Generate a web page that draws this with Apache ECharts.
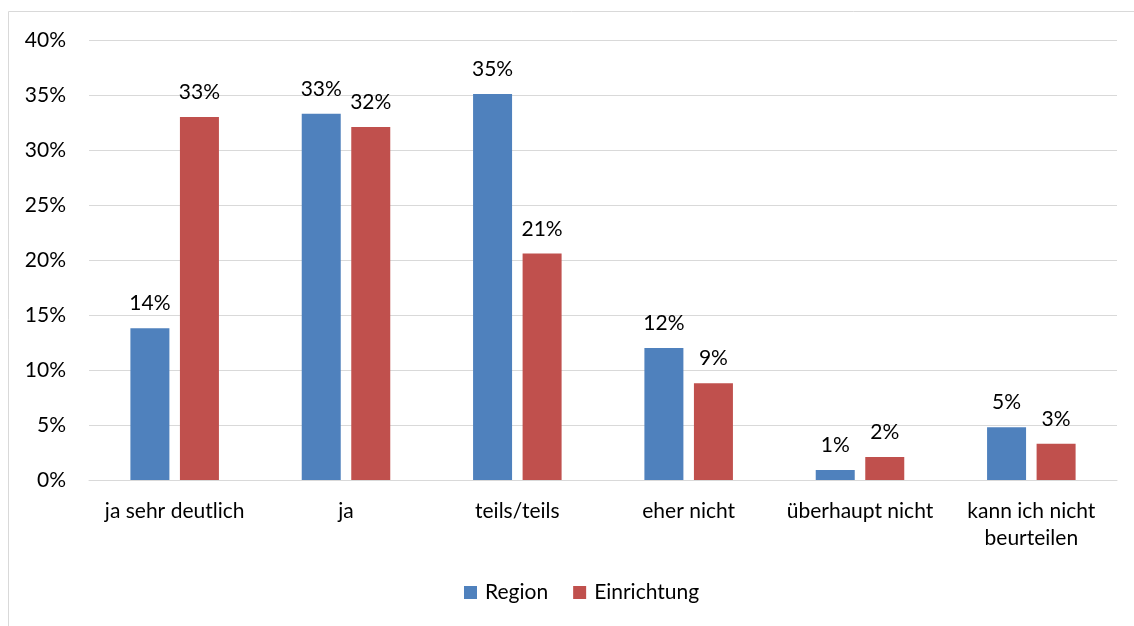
<!DOCTYPE html>
<html>
<head>
<meta charset="utf-8">
<script src="https://cdn.jsdelivr.net/npm/echarts@6/dist/echarts.min.js"></script>
<style>
  html, body { margin: 0; padding: 0; background: #fff; }
  #chart { width: 1134px; height: 626px; }
</style>
</head>
<body>
<div id="chart"></div>
<script>
  // Kategorien und Werte (in %)
  var categories = ['ja sehr deutlich', 'ja', 'teils/teils', 'eher nicht', 'überhaupt nicht', 'kann ich nicht\nbeurteilen'];
  var regionData = [13.8, 33.3, 35.1, 12.0, 0.9, 4.8];
  var einrichtungData = [33.0, 32.1, 20.6, 8.8, 2.1, 3.3];
  var seriesNames = ['Region', 'Einrichtung'];

  var font = 'Lato, "Open Sans", sans-serif';
  var fs = 21;

  var labelStyle = {
    show: true,
    position: 'top',
    distance: 14,
    color: '#000',
    fontSize: fs,
    fontFamily: font,
    formatter: function (p) { return Math.round(p.value) + '%'; }
  };

  var option = {
    animation: false,
    textStyle: { fontFamily: font },
    // Rahmen um das Diagramm
    graphic: [{
      type: 'rect',
      shape: { x: 8.5, y: 11.5, width: 1200, height: 700 },
      style: { fill: 'none', stroke: '#d9d9d9', lineWidth: 1 },
      silent: true
    }],
    grid: { left: 89, right: 17, top: 40, bottom: 146 },
    legend: {
      data: seriesNames,
      bottom: 18,
      left: 459,
      itemWidth: 13,
      itemHeight: 13,
      itemGap: 25,
      icon: 'rect',
      textStyle: { fontSize: fs, color: '#000', fontFamily: font, padding: [0, 0, 0, 3] }
    },
    xAxis: {
      type: 'category',
      data: categories,
      axisLine: { lineStyle: { color: '#d9d9d9' } },
      axisTick: { show: false },
      axisLabel: { color: '#000', fontSize: fs, margin: 18, lineHeight: 27, fontFamily: font, interval: 0 }
    },
    yAxis: {
      type: 'value',
      min: 0,
      max: 40,
      interval: 5,
      axisLine: { show: false },
      axisTick: { show: false },
      axisLabel: { color: '#000', fontSize: fs, margin: 23, fontFamily: font, formatter: '{value}%' },
      splitLine: { lineStyle: { color: '#d9d9d9' } }
    },
    series: [
      {
        name: seriesNames[0],
        type: 'bar',
        data: regionData,
        barWidth: 39,
        barGap: '27%',
        itemStyle: { color: '#4f81bd' },
        label: labelStyle
      },
      {
        name: seriesNames[1],
        type: 'bar',
        data: einrichtungData,
        barWidth: 39,
        itemStyle: { color: '#c0504d' },
        label: labelStyle
      }
    ]
  };

  var myChart = echarts.init(document.getElementById('chart'));
  myChart.setOption(option);
</script>
</body>
</html>
